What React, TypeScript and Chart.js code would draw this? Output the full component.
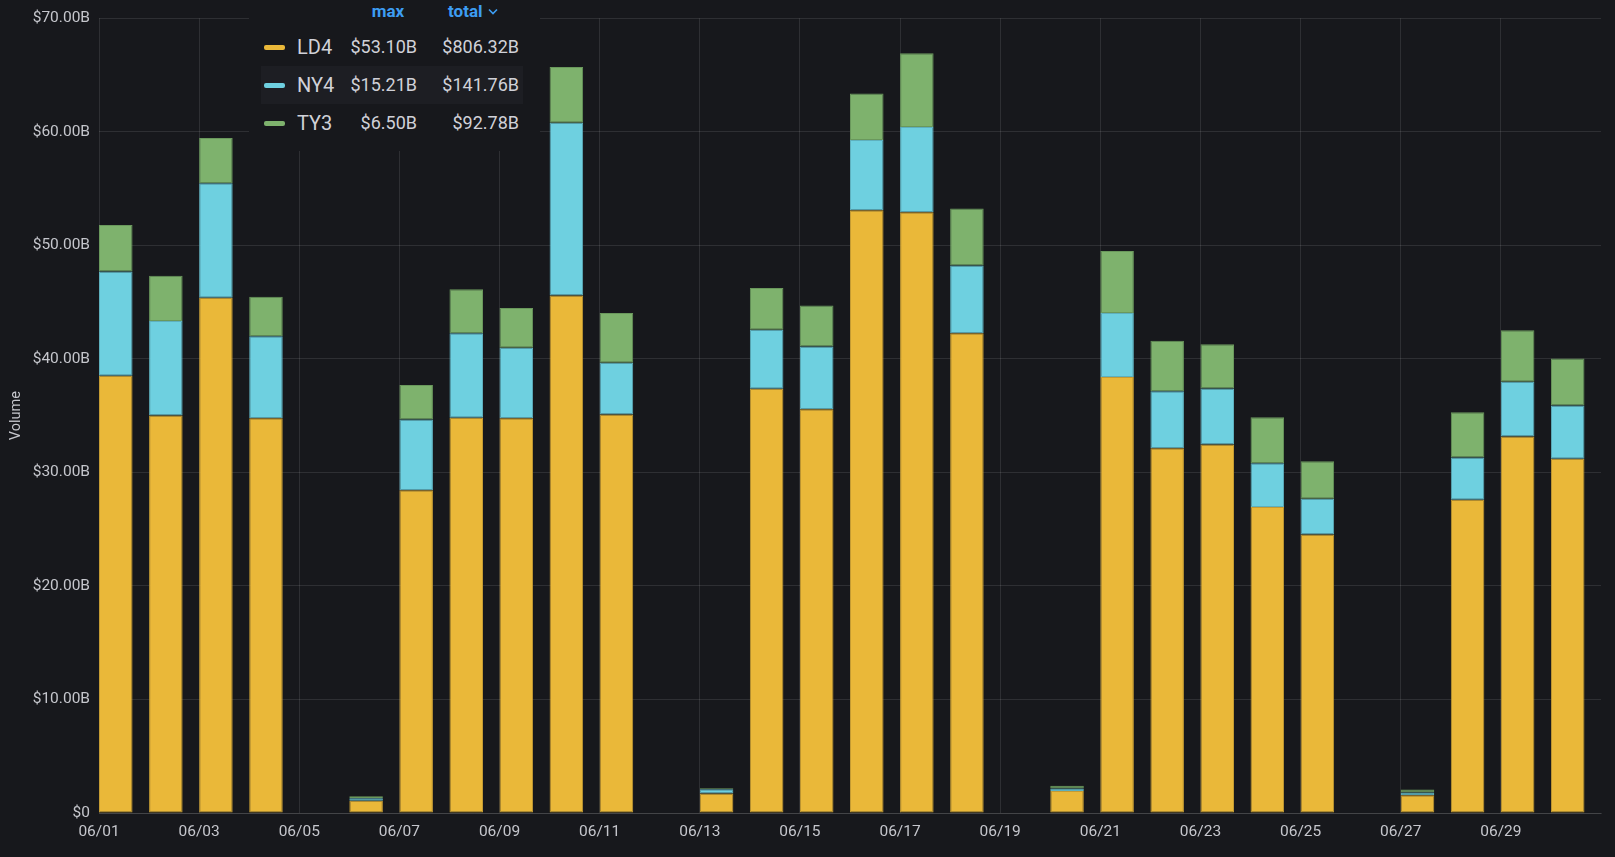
import { useEffect, useRef } from 'react';
import { Chart, registerables } from 'chart.js';

Chart.register(...registerables);

// Daily trading volume per data centre, in billions of USD.
const DAY_LABELS = [
  '06/01', '06/02', '06/03', '06/04', '06/05', '06/06', '06/07', '06/08', '06/09', '06/10',
  '06/11', '06/12', '06/13', '06/14', '06/15', '06/16', '06/17', '06/18', '06/19', '06/20',
  '06/21', '06/22', '06/23', '06/24', '06/25', '06/26', '06/27', '06/28', '06/29', '06/30',
];

const LD4 = [
  38.52, 35.01, 45.38, 34.78, 0, 1.07, 28.43, 34.82, 34.78, 45.58,
  35.11, 0, 1.71, 37.36, 35.57, 53.1, 52.91, 42.25, 0, 1.94,
  38.41, 32.12, 32.46, 26.96, 24.53, 0, 1.56, 27.6, 33.16, 31.2,
];

const NY4 = [
  9.18, 8.32, 10.08, 7.22, 0, 0.22, 6.23, 7.44, 6.21, 15.21,
  4.55, 0, 0.38, 5.21, 5.53, 6.19, 7.52, 5.97, 0, 0.22,
  5.63, 5.02, 4.94, 3.84, 3.16, 0, 0.25, 3.71, 4.83, 4.7,
];

const TY3 = [
  4.1, 4.0, 4.0, 3.48, 0, 0.18, 3.03, 3.88, 3.49, 4.91,
  4.39, 0, 0.1, 3.67, 3.61, 4.09, 6.5, 5.02, 0, 0.25,
  5.47, 4.46, 3.88, 4.05, 3.3, 0, 0.25, 4.0, 4.53, 4.14,
];

const Y_MAX = 70;
const Y_STEP = 10;
const X_TICK_STEP = 2;

const BG = '#17181c';
const GRID = 'rgba(255,255,255,0.1)';
const TICK_TEXT = '#c5c6cc';
const LEGEND_TEXT = '#d0d1d8';
const HEADER_BLUE = '#3d9df2';
const FONT = 'Roboto, "Noto Sans", sans-serif';

const SERIES = [
  { name: 'LD4', values: LD4, fill: '#EAB839', line: '#c49b33' },
  { name: 'NY4', values: NY4, fill: '#6ED0E0', line: '#5eb0be' },
  { name: 'TY3', values: TY3, fill: '#7EB26D', line: '#6a985c' },
];

// bars sit at the start of each day slot, covering this share of it
const BAR_SHARE = 0.67;

const money = (v: number) => (v === 0 ? '$0' : `$${v.toFixed(2)}B`);
const sum = (a: number[]) => a.reduce((s, v) => s + v, 0);

function Legend() {
  const rowTop = [28, 66, 104];
  return (
    <div
      style={{
        position: 'absolute',
        left: 249,
        top: 0,
        width: 291,
        height: 151,
        background: BG,
        fontFamily: FONT,
        color: LEGEND_TEXT,
        fontSize: 18,
      }}
    >
      <div
        style={{
          position: 'absolute',
          left: 109,
          width: 60,
          top: 0,
          height: 22,
          lineHeight: '22px',
          textAlign: 'center',
          color: HEADER_BLUE,
          fontWeight: 700,
          fontSize: 17,
        }}
      >
        max
      </div>
      <div
        style={{
          position: 'absolute',
          left: 199,
          top: 0,
          height: 22,
          lineHeight: '22px',
          color: HEADER_BLUE,
          fontWeight: 700,
          fontSize: 17,
          display: 'flex',
          alignItems: 'center',
          gap: 6,
        }}
      >
        <span>total</span>
        <svg width="10" height="7" viewBox="0 0 10 7">
          <polyline points="1,1.5 5,5.5 9,1.5" fill="none" stroke={HEADER_BLUE} strokeWidth="1.6" />
        </svg>
      </div>
      {SERIES.map((s, i) => (
        <div key={s.name}>
          {s.name === 'NY4' && (
            <div
              style={{
                position: 'absolute',
                left: 12,
                width: 262,
                top: rowTop[i],
                height: 38,
                background: '#1d1e23',
              }}
            />
          )}
          <div
            style={{
              position: 'absolute',
              left: 15,
              width: 21,
              height: 5,
              top: rowTop[i] + 17,
              borderRadius: 2,
              background: s.fill,
            }}
          />
          <div style={{ position: 'absolute', left: 48, top: rowTop[i], height: 38, lineHeight: '38px', fontSize: 20 }}>
            {s.name}
          </div>
          <div style={{ position: 'absolute', right: 123, top: rowTop[i], height: 38, lineHeight: '38px' }}>
            {money(Math.max(...s.values))}
          </div>
          <div style={{ position: 'absolute', right: 21, top: rowTop[i], height: 38, lineHeight: '38px' }}>
            {money(sum(s.values))}
          </div>
        </div>
      ))}
    </div>
  );
}

export default function App() {
  const canvasRef = useRef<HTMLCanvasElement | null>(null);

  useEffect(() => {
    const canvas = canvasRef.current;
    if (!canvas) return;
    const offset = BAR_SHARE / 2;
    const chart = new Chart(canvas, {
      type: 'bar',
      data: {
        datasets: SERIES.map((s) => ({
          label: s.name,
          data: s.values.map((v, i) => ({ x: i + offset, y: v })),
          backgroundColor: s.fill,
          borderColor: s.line,
          borderWidth: 1,
          borderSkipped: false,
          categoryPercentage: 1,
          barPercentage: BAR_SHARE,
        })),
      },
      options: {
        responsive: false,
        animation: false,
        devicePixelRatio: 1,
        layout: { padding: { left: 0, right: 14, top: 18, bottom: 0 } },
        plugins: {
          legend: { display: false },
          tooltip: { enabled: false },
        },
        scales: {
          x: {
            type: 'linear',
            stacked: true,
            offset: false,
            min: 0,
            max: DAY_LABELS.length,
            afterFit: (scale: any) => {
              scale.height = 44;
            },
            grid: {
              offset: false,
              color: (ctx: any) => (ctx.tick && ctx.tick.value >= DAY_LABELS.length ? 'rgba(0,0,0,0)' : GRID),
              drawTicks: false,
              lineWidth: 1,
            },
            border: { display: true, color: GRID },
            ticks: {
              stepSize: X_TICK_STEP,
              autoSkip: false,
              maxRotation: 0,
              padding: 10,
              color: TICK_TEXT,
              font: { family: FONT, size: 15.5 },
              callback: (v: any) => DAY_LABELS[Number(v)] ?? '',
            },
          },
          y: {
            stacked: true,
            min: 0,
            max: Y_MAX,
            afterFit: (scale: any) => {
              scale.width = 99;
            },
            grid: { color: GRID, drawTicks: false, lineWidth: 1 },
            border: { display: false },
            title: {
              display: true,
              text: 'Volume',
              color: TICK_TEXT,
              font: { family: FONT, size: 14.5 },
              padding: { top: 8, bottom: 0 },
            },
            ticks: {
              stepSize: Y_STEP,
              padding: 9,
              color: TICK_TEXT,
              font: { family: FONT, size: 15.5 },
              callback: (v: any) => money(Number(v)),
            },
          },
        },
      },
    });
    return () => chart.destroy();
  }, []);

  return (
    <div
      style={{
        position: 'fixed',
        left: 0,
        top: 0,
        width: 1615,
        height: 857,
        background: BG,
        overflow: 'hidden',
      }}
    >
      <canvas ref={canvasRef} width={1615} height={857} style={{ display: 'block' }} />
      <Legend />
    </div>
  );
}
